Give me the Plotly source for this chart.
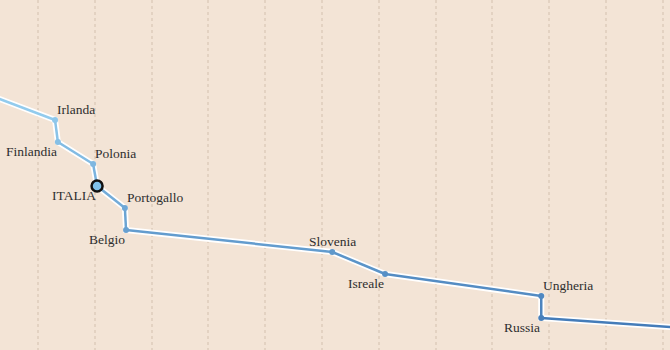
import plotly.graph_objects as go

# Data (ranking order, x = score)
countries = ["", "Irlanda", "Finlandia", "Polonia", "ITALIA", "Portogallo", "Belgio",
             "Slovenia", "Isreale", "Ungheria", "Russia", ""]
ranks = [5, 6, 7, 8, 9, 10, 11, 12, 13, 14, 15, 16]
scores = [0.28, 1.30, 1.35, 1.97, 2.04, 2.53, 2.55, 6.18, 7.11, 9.86, 9.86, 15.4]
label_side = ["", "above", "below", "above", "below", "above", "below",
              "above", "below", "above", "below", ""]
label_anchor = ["", "left", "right", "left", "right", "left", "right",
                "center", "right", "left", "right", ""]
highlight = "ITALIA"

BG = "#f3e4d6"
c_top = (150, 207, 240)
c_bot = (64, 120, 182)

def mix(t):
    t = max(0.0, min(1.0, t))
    return "rgb(%d,%d,%d)" % tuple(round(a + (b - a) * t) for a, b in zip(c_top, c_bot))

fig = go.Figure()
n = len(scores)
rmin, rmax = ranks[0], ranks[-1]
# white halo
fig.add_trace(go.Scatter(x=scores, y=ranks, mode="lines",
                         line=dict(color="white", width=6), hoverinfo="skip", showlegend=False))
# coloured segments
for i in range(n - 1):
    t = ((ranks[i] + ranks[i + 1]) / 2 - rmin) / (rmax - rmin)
    fig.add_trace(go.Scatter(x=scores[i:i + 2], y=ranks[i:i + 2], mode="lines",
                             line=dict(color=mix(t), width=2.5), hoverinfo="skip", showlegend=False))
# markers + labels
for i in range(n):
    if not countries[i]:
        continue
    t = (ranks[i] - rmin) / (rmax - rmin)
    if countries[i] == highlight:
        fig.add_trace(go.Scatter(x=[scores[i]], y=[ranks[i]], mode="markers",
                                 marker=dict(size=11, color="#7fc1ea", line=dict(color="#111", width=2.5)),
                                 showlegend=False))
    else:
        fig.add_trace(go.Scatter(x=[scores[i]], y=[ranks[i]], mode="markers",
                                 marker=dict(size=6, color=mix(t)), showlegend=False))
    xa = label_anchor[i]
    xs = 1 if xa == "right" else 0
    ys = 11 if label_side[i] == "above" else -9
    fig.add_annotation(x=scores[i], y=ranks[i], text=countries[i], showarrow=False,
                       xanchor=xa, yanchor="middle", yshift=ys, xshift=xs,
                       font=dict(family="Liberation Serif", size=13.5, color="#2e2e2e"))

fig.update_layout(
    width=670, height=350, margin=dict(l=0, r=0, t=0, b=0),
    paper_bgcolor=BG, plot_bgcolor=BG,
    xaxis=dict(range=[1 - 38 / 56.8, 1 + 632 / 56.8], dtick=1, tick0=0, showgrid=True,
               gridcolor="#e3d2c2", griddash="dot", gridwidth=1.5, zeroline=False,
               showticklabels=False, ticks="", showline=False),
    yaxis=dict(range=[6 + 230 / 22, 6 - 120 / 22], showgrid=False, zeroline=False,
               showticklabels=False, ticks="", showline=False),
)
fig.write_html("out.html")
